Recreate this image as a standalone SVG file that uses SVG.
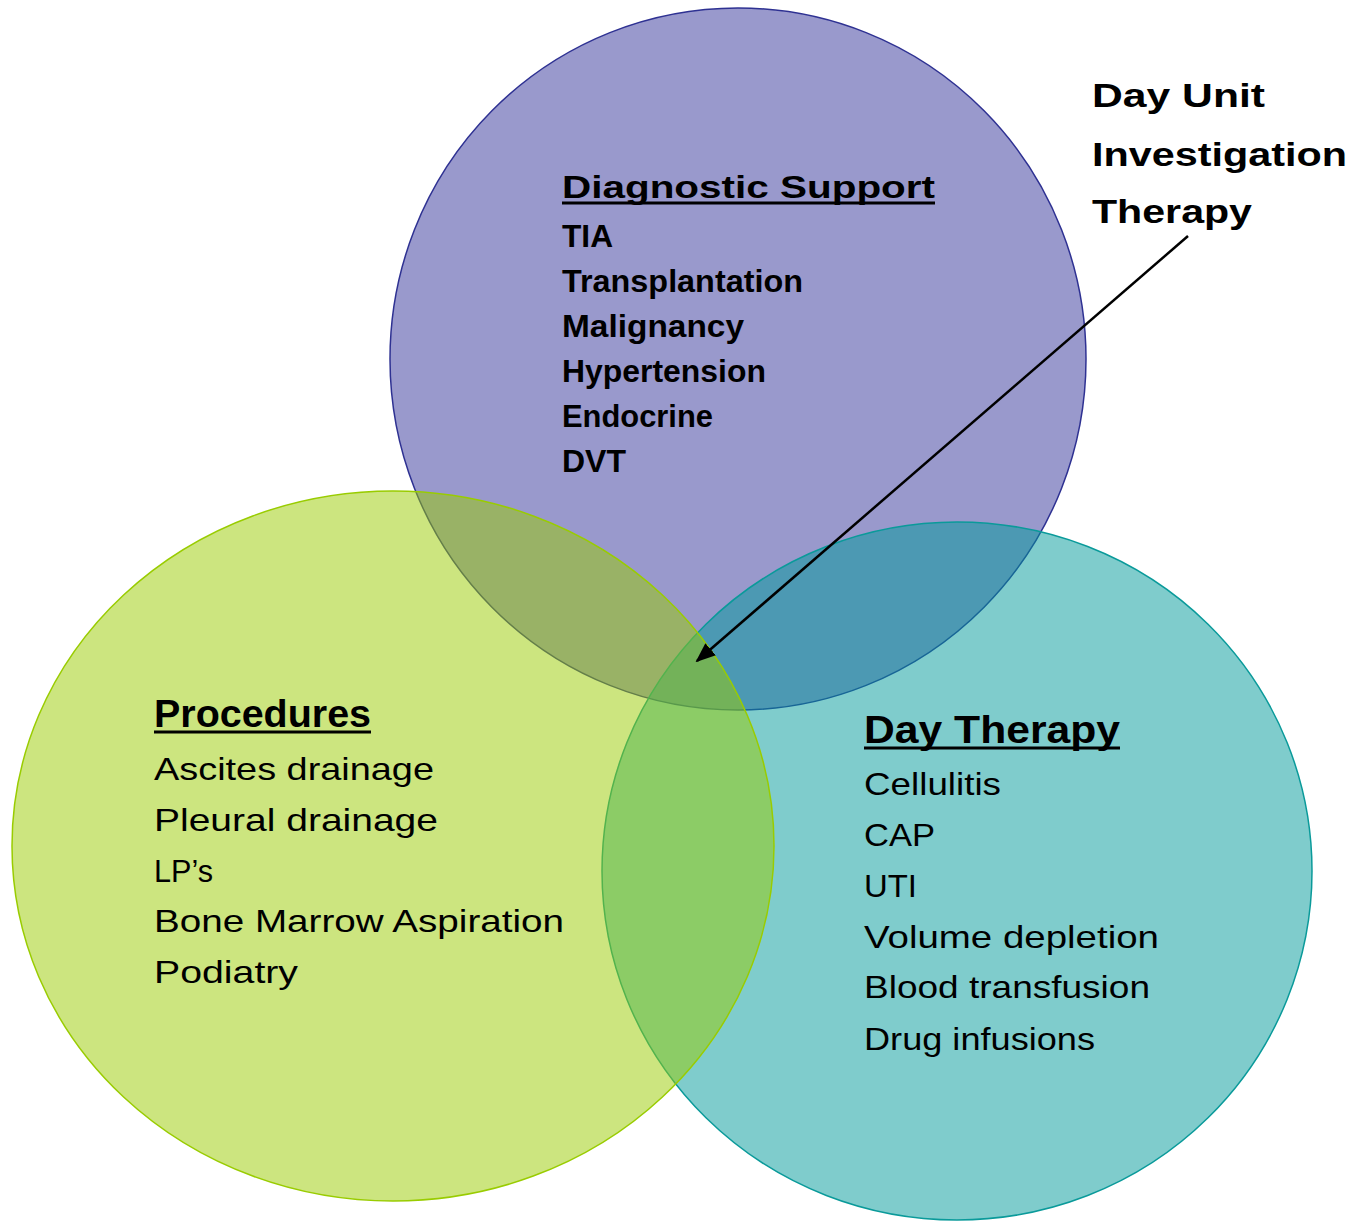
<svg xmlns="http://www.w3.org/2000/svg" width="1353" height="1221" viewBox="0 0 1353 1221">
<style>
.t{font-family:"Liberation Sans","DejaVu Sans",sans-serif;fill:#000}
.h{font-weight:bold;font-size:38px}
.hs{font-weight:bold;font-size:34px}
.d{font-weight:bold;font-size:31px}
.r{font-size:32px}
.ul{stroke:#000;stroke-width:3}
</style>
<defs>
<marker id="ah" viewBox="0 0 10 10" refX="9" refY="5" markerWidth="8" markerHeight="8" orient="auto" markerUnits="strokeWidth">
<path d="M0,1 L10,5 L0,9 Z" fill="#000"/>
</marker>
</defs>
<rect width="1353" height="1221" fill="#fff"/>
<g id="node-diagnostic">
<ellipse cx="738" cy="359" rx="348" ry="351" fill="#333399" fill-opacity="0.5" stroke="#2e3192" stroke-width="1.5"/>
</g>
<g id="node-daytherapy">
<ellipse cx="957" cy="871" rx="355" ry="349" fill="#009999" fill-opacity="0.5" stroke="#0a9a9a" stroke-width="1.5"/>
</g>
<g id="node-procedures">
<ellipse cx="393" cy="846" rx="381" ry="355" fill="#99cc00" fill-opacity="0.5" stroke="#99cc00" stroke-width="1.5"/>
</g>
<g id="connectors">
<line x1="1188" y1="236" x2="697" y2="661" stroke="#000" stroke-width="2.5" marker-end="url(#ah)"/>
</g>
<g id="label-diagnostic" class="t">
<text class="d" x="562" y="198" textLength="373" lengthAdjust="spacingAndGlyphs">Diagnostic Support</text>
<line class="ul" x1="562" y1="203" x2="935" y2="203"/>
<text class="d" x="562" y="247" textLength="51" lengthAdjust="spacingAndGlyphs">TIA</text>
<text class="d" x="562" y="292" textLength="241" lengthAdjust="spacingAndGlyphs">Transplantation</text>
<text class="d" x="562" y="337" textLength="182" lengthAdjust="spacingAndGlyphs">Malignancy</text>
<text class="d" x="562" y="382" textLength="204" lengthAdjust="spacingAndGlyphs">Hypertension</text>
<text class="d" x="562" y="427" textLength="151" lengthAdjust="spacingAndGlyphs">Endocrine</text>
<text class="d" x="562" y="472" textLength="64" lengthAdjust="spacingAndGlyphs">DVT</text>
</g>
<g id="label-dayunit" class="t">
<text class="hs" x="1092" y="107" textLength="173" lengthAdjust="spacingAndGlyphs">Day Unit</text>
<text class="hs" x="1092" y="166" textLength="255" lengthAdjust="spacingAndGlyphs">Investigation</text>
<text class="hs" x="1092" y="223" textLength="160" lengthAdjust="spacingAndGlyphs">Therapy</text>
</g>
<g id="label-procedures" class="t">
<text class="h" x="154" y="727" textLength="217" lengthAdjust="spacingAndGlyphs">Procedures</text>
<line class="ul" x1="154" y1="732" x2="371" y2="732"/>
<text class="r" x="154" y="780" textLength="280" lengthAdjust="spacingAndGlyphs">Ascites drainage</text>
<text class="r" x="154" y="831" textLength="284" lengthAdjust="spacingAndGlyphs">Pleural drainage</text>
<text class="r" x="154" y="882" textLength="59" lengthAdjust="spacingAndGlyphs">LP’s</text>
<text class="r" x="154" y="932" textLength="410" lengthAdjust="spacingAndGlyphs">Bone Marrow Aspiration</text>
<text class="r" x="154" y="983" textLength="144" lengthAdjust="spacingAndGlyphs">Podiatry</text>
</g>
<g id="label-daytherapy" class="t">
<text class="h" x="864" y="743" textLength="256" lengthAdjust="spacingAndGlyphs">Day Therapy</text>
<line class="ul" x1="864" y1="748" x2="1120" y2="748"/>
<text class="r" x="864" y="795" textLength="137" lengthAdjust="spacingAndGlyphs">Cellulitis</text>
<text class="r" x="864" y="846" textLength="71" lengthAdjust="spacingAndGlyphs">CAP</text>
<text class="r" x="864" y="897" textLength="53" lengthAdjust="spacingAndGlyphs">UTI</text>
<text class="r" x="864" y="948" textLength="295" lengthAdjust="spacingAndGlyphs">Volume depletion</text>
<text class="r" x="864" y="998" textLength="286" lengthAdjust="spacingAndGlyphs">Blood transfusion</text>
<text class="r" x="864" y="1050" textLength="231" lengthAdjust="spacingAndGlyphs">Drug infusions</text>
</g>
</svg>
